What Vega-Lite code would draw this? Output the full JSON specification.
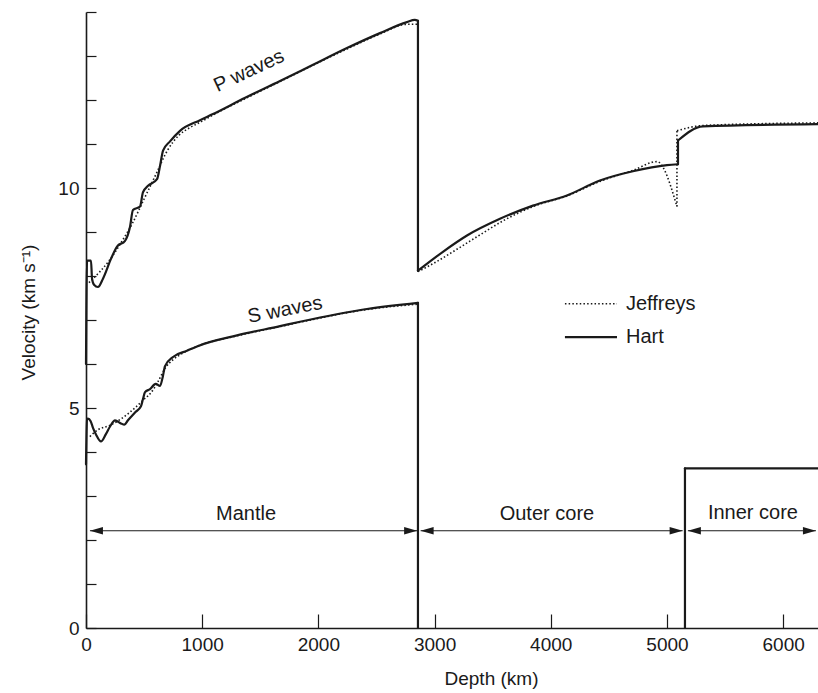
{
  "$schema": "https://vega.github.io/schema/vega-lite/v6.json",
  "width": 732,
  "height": 616,
  "autosize": {"type": "none"},
  "padding": {"left": 86, "top": 12, "right": 0, "bottom": 65},
  "background": "white",
  "config": {
    "view": {"stroke": null},
    "font": "Liberation Sans",
    "text": {"font": "Liberation Sans", "fontSize": 20, "color": "#1a1a1a"}
  },
  "datasets": {
    "hart": [
      {"seg": "P mantle", "i": 0, "d": 0, "v": 6.0},
      {"seg": "P mantle", "i": 1, "d": 9, "v": 8.35},
      {"seg": "P mantle", "i": 2, "d": 43, "v": 8.35},
      {"seg": "P mantle", "i": 3, "d": 52, "v": 7.94},
      {"seg": "P mantle", "i": 4, "d": 69, "v": 7.8},
      {"seg": "P mantle", "i": 5, "d": 103, "v": 7.75},
      {"seg": "P mantle", "i": 6, "d": 146, "v": 7.94},
      {"seg": "P mantle", "i": 7, "d": 215, "v": 8.39},
      {"seg": "P mantle", "i": 8, "d": 267, "v": 8.67},
      {"seg": "P mantle", "i": 9, "d": 336, "v": 8.8},
      {"seg": "P mantle", "i": 10, "d": 379, "v": 9.12},
      {"seg": "P mantle", "i": 11, "d": 404, "v": 9.5},
      {"seg": "P mantle", "i": 12, "d": 465, "v": 9.58},
      {"seg": "P mantle", "i": 13, "d": 490, "v": 9.9},
      {"seg": "P mantle", "i": 14, "d": 534, "v": 10.05},
      {"seg": "P mantle", "i": 15, "d": 611, "v": 10.2},
      {"seg": "P mantle", "i": 16, "d": 637, "v": 10.5},
      {"seg": "P mantle", "i": 17, "d": 663, "v": 10.85},
      {"seg": "P mantle", "i": 18, "d": 723, "v": 11.06},
      {"seg": "P mantle", "i": 19, "d": 809, "v": 11.3},
      {"seg": "P mantle", "i": 20, "d": 981, "v": 11.54},
      {"seg": "P mantle", "i": 21, "d": 1093, "v": 11.68},
      {"seg": "P mantle", "i": 22, "d": 1370, "v": 12.05},
      {"seg": "P mantle", "i": 23, "d": 1670, "v": 12.43},
      {"seg": "P mantle", "i": 24, "d": 1954, "v": 12.8},
      {"seg": "P mantle", "i": 25, "d": 2246, "v": 13.18},
      {"seg": "P mantle", "i": 26, "d": 2530, "v": 13.52},
      {"seg": "P mantle", "i": 27, "d": 2762, "v": 13.77},
      {"seg": "P mantle", "i": 28, "d": 2830, "v": 13.82},
      {"seg": "P mantle", "i": 29, "d": 2857, "v": 13.8},
      {"seg": "P CMB", "i": 0, "d": 2857, "v": 13.8},
      {"seg": "P CMB", "i": 1, "d": 2857, "v": 8.12},
      {"seg": "P outer core", "i": 0, "d": 2857, "v": 8.12},
      {"seg": "P outer core", "i": 1, "d": 3072, "v": 8.55},
      {"seg": "P outer core", "i": 2, "d": 3279, "v": 8.92},
      {"seg": "P outer core", "i": 3, "d": 3563, "v": 9.3},
      {"seg": "P outer core", "i": 4, "d": 3847, "v": 9.6},
      {"seg": "P outer core", "i": 5, "d": 4139, "v": 9.83},
      {"seg": "P outer core", "i": 6, "d": 4423, "v": 10.17},
      {"seg": "P outer core", "i": 7, "d": 4707, "v": 10.38},
      {"seg": "P outer core", "i": 8, "d": 5000, "v": 10.52},
      {"seg": "P outer core", "i": 9, "d": 5095, "v": 10.54},
      {"seg": "P ICB", "i": 0, "d": 5095, "v": 10.54},
      {"seg": "P ICB", "i": 1, "d": 5095, "v": 11.08},
      {"seg": "P inner core", "i": 0, "d": 5095, "v": 11.08},
      {"seg": "P inner core", "i": 1, "d": 5310, "v": 11.4},
      {"seg": "P inner core", "i": 2, "d": 6300, "v": 11.45},
      {"seg": "S mantle", "i": 0, "d": 0, "v": 3.72},
      {"seg": "S mantle", "i": 1, "d": 9, "v": 4.74},
      {"seg": "S mantle", "i": 2, "d": 17, "v": 4.76},
      {"seg": "S mantle", "i": 3, "d": 40, "v": 4.7},
      {"seg": "S mantle", "i": 4, "d": 60, "v": 4.55},
      {"seg": "S mantle", "i": 5, "d": 86, "v": 4.4},
      {"seg": "S mantle", "i": 6, "d": 129, "v": 4.24},
      {"seg": "S mantle", "i": 7, "d": 170, "v": 4.4},
      {"seg": "S mantle", "i": 8, "d": 207, "v": 4.58},
      {"seg": "S mantle", "i": 9, "d": 250, "v": 4.72},
      {"seg": "S mantle", "i": 10, "d": 301, "v": 4.65},
      {"seg": "S mantle", "i": 11, "d": 330, "v": 4.62},
      {"seg": "S mantle", "i": 12, "d": 361, "v": 4.72},
      {"seg": "S mantle", "i": 13, "d": 422, "v": 4.9},
      {"seg": "S mantle", "i": 14, "d": 473, "v": 5.04},
      {"seg": "S mantle", "i": 15, "d": 490, "v": 5.2},
      {"seg": "S mantle", "i": 16, "d": 508, "v": 5.36},
      {"seg": "S mantle", "i": 17, "d": 551, "v": 5.43},
      {"seg": "S mantle", "i": 18, "d": 600, "v": 5.55},
      {"seg": "S mantle", "i": 19, "d": 637, "v": 5.5},
      {"seg": "S mantle", "i": 20, "d": 660, "v": 5.7},
      {"seg": "S mantle", "i": 21, "d": 680, "v": 5.95},
      {"seg": "S mantle", "i": 22, "d": 749, "v": 6.16},
      {"seg": "S mantle", "i": 23, "d": 869, "v": 6.3},
      {"seg": "S mantle", "i": 24, "d": 955, "v": 6.4},
      {"seg": "S mantle", "i": 25, "d": 1300, "v": 6.65},
      {"seg": "S mantle", "i": 26, "d": 1670, "v": 6.86},
      {"seg": "S mantle", "i": 27, "d": 1842, "v": 6.96},
      {"seg": "S mantle", "i": 28, "d": 2418, "v": 7.25},
      {"seg": "S mantle", "i": 29, "d": 2857, "v": 7.39},
      {"seg": "S CMB", "i": 0, "d": 2857, "v": 7.39},
      {"seg": "S CMB", "i": 1, "d": 2857, "v": 0},
      {"seg": "S ICB", "i": 0, "d": 5155, "v": 0},
      {"seg": "S ICB", "i": 1, "d": 5155, "v": 3.63},
      {"seg": "S inner core", "i": 0, "d": 5155, "v": 3.63},
      {"seg": "S inner core", "i": 1, "d": 6300, "v": 3.63}
    ],
    "jeffreys": [
      {"seg": "P mantle", "i": 0, "d": 25, "v": 7.85},
      {"seg": "P mantle", "i": 1, "d": 120, "v": 8.1},
      {"seg": "P mantle", "i": 2, "d": 200, "v": 8.35},
      {"seg": "P mantle", "i": 3, "d": 300, "v": 8.75},
      {"seg": "P mantle", "i": 4, "d": 400, "v": 9.2},
      {"seg": "P mantle", "i": 5, "d": 500, "v": 9.75},
      {"seg": "P mantle", "i": 6, "d": 600, "v": 10.3},
      {"seg": "P mantle", "i": 7, "d": 700, "v": 10.85},
      {"seg": "P mantle", "i": 8, "d": 800, "v": 11.2},
      {"seg": "P mantle", "i": 9, "d": 900, "v": 11.38},
      {"seg": "P mantle", "i": 10, "d": 1000, "v": 11.52},
      {"seg": "P mantle", "i": 11, "d": 1093, "v": 11.66},
      {"seg": "P mantle", "i": 12, "d": 1370, "v": 12.03},
      {"seg": "P mantle", "i": 13, "d": 1670, "v": 12.42},
      {"seg": "P mantle", "i": 14, "d": 1954, "v": 12.79},
      {"seg": "P mantle", "i": 15, "d": 2246, "v": 13.16},
      {"seg": "P mantle", "i": 16, "d": 2530, "v": 13.5},
      {"seg": "P mantle", "i": 17, "d": 2762, "v": 13.72},
      {"seg": "P mantle", "i": 18, "d": 2857, "v": 13.72},
      {"seg": "P outer core", "i": 0, "d": 2857, "v": 8.1},
      {"seg": "P outer core", "i": 1, "d": 3000, "v": 8.3},
      {"seg": "P outer core", "i": 2, "d": 3200, "v": 8.62},
      {"seg": "P outer core", "i": 3, "d": 3400, "v": 8.95},
      {"seg": "P outer core", "i": 4, "d": 3600, "v": 9.27},
      {"seg": "P outer core", "i": 5, "d": 3850, "v": 9.58},
      {"seg": "P outer core", "i": 6, "d": 4139, "v": 9.82},
      {"seg": "P outer core", "i": 7, "d": 4423, "v": 10.15},
      {"seg": "P outer core", "i": 8, "d": 4707, "v": 10.4},
      {"seg": "P outer core", "i": 9, "d": 4914, "v": 10.6},
      {"seg": "P outer core", "i": 10, "d": 5086, "v": 9.58},
      {"seg": "P ICB", "i": 0, "d": 5086, "v": 9.58},
      {"seg": "P ICB", "i": 1, "d": 5086, "v": 11.3},
      {"seg": "P inner core", "i": 0, "d": 5086, "v": 11.3},
      {"seg": "P inner core", "i": 1, "d": 5310, "v": 11.42},
      {"seg": "P inner core", "i": 2, "d": 6300, "v": 11.48},
      {"seg": "S mantle", "i": 0, "d": 33, "v": 4.35},
      {"seg": "S mantle", "i": 1, "d": 100, "v": 4.5},
      {"seg": "S mantle", "i": 2, "d": 200, "v": 4.6},
      {"seg": "S mantle", "i": 3, "d": 300, "v": 4.75},
      {"seg": "S mantle", "i": 4, "d": 420, "v": 5.0},
      {"seg": "S mantle", "i": 5, "d": 500, "v": 5.2},
      {"seg": "S mantle", "i": 6, "d": 560, "v": 5.35},
      {"seg": "S mantle", "i": 7, "d": 620, "v": 5.6},
      {"seg": "S mantle", "i": 8, "d": 680, "v": 5.9},
      {"seg": "S mantle", "i": 9, "d": 750, "v": 6.1},
      {"seg": "S mantle", "i": 10, "d": 850, "v": 6.27},
      {"seg": "S mantle", "i": 11, "d": 955, "v": 6.4},
      {"seg": "S mantle", "i": 12, "d": 1300, "v": 6.64},
      {"seg": "S mantle", "i": 13, "d": 1670, "v": 6.85},
      {"seg": "S mantle", "i": 14, "d": 1842, "v": 6.95},
      {"seg": "S mantle", "i": 15, "d": 2418, "v": 7.24},
      {"seg": "S mantle", "i": 16, "d": 2857, "v": 7.36}
    ],
    "regions": [
      {"region": "Mantle", "d": 34, "d2": 2850, "v": 2.21, "ld": 1377, "lv": 2.6},
      {"region": "Outer core", "d": 2880, "d2": 5135, "v": 2.21, "ld": 3967, "lv": 2.6},
      {"region": "Inner core", "d": 5180, "d2": 6282, "v": 2.21, "ld": 5740, "lv": 2.62}
    ],
    "legend": [
      {"model": "Jeffreys", "d": 4122, "d2": 4570, "v": 7.37, "ld": 4647},
      {"model": "Hart", "d": 4122, "d2": 4570, "v": 6.61, "ld": 4647}
    ],
    "waves": [
      {"label": "P waves", "d": 1403, "v": 12.66},
      {"label": "S waves", "d": 1713, "v": 7.23}
    ]
  },
  "encoding": {
    "x": {
      "field": "d",
      "type": "quantitative",
      "scale": {"domain": [0, 6300], "nice": false, "zero": false},
      "axis": {
        "title": "Depth (km)",
        "values": [0, 1000, 2000, 3000, 4000, 5000, 6000],
        "format": "d",
        "grid": false,
        "tickSize": -14,
        "tickWidth": 1.2,
        "tickColor": "#1a1a1a",
        "domainColor": "#1a1a1a",
        "domainWidth": 1.6,
        "labelFont": "Liberation Sans",
        "labelFontSize": 19,
        "labelColor": "#1a1a1a",
        "labelPadding": 21,
        "labelFlush": false,
        "titleFont": "Liberation Sans",
        "titleFontSize": 19,
        "titleFontWeight": "normal",
        "titleColor": "#1a1a1a",
        "titleX": 405,
        "titleY": 50,
        "titleAlign": "center",
        "titleBaseline": "middle"
      }
    },
    "y": {
      "field": "v",
      "type": "quantitative",
      "scale": {"domain": [0, 14], "nice": false, "zero": true},
      "axis": {
        "title": "Velocity (km s⁻¹)",
        "values": [0, 1, 2, 3, 4, 5, 6, 7, 8, 9, 10, 11, 12, 13, 14],
        "labelExpr": "datum.value % 5 === 0 ? datum.label : ''",
        "grid": false,
        "tickSize": -10,
        "tickWidth": 1.2,
        "tickColor": "#1a1a1a",
        "domainColor": "#1a1a1a",
        "domainWidth": 1.6,
        "labelFont": "Liberation Sans",
        "labelFontSize": 19,
        "labelColor": "#1a1a1a",
        "labelPadding": 17,
        "labelFlush": false,
        "titleFont": "Liberation Sans",
        "titleFontSize": 19,
        "titleFontWeight": "normal",
        "titleColor": "#1a1a1a",
        "titleX": -58,
        "titleY": 300,
        "titleAngle": -90,
        "titleAlign": "center",
        "titleBaseline": "middle"
      }
    }
  },
  "layer": [
    {
      "data": {"name": "jeffreys"},
      "mark": {"type": "line", "color": "#1a1a1a", "strokeWidth": 1.6, "strokeDash": [1.5, 2.2], "strokeCap": "butt", "interpolate": "monotone"},
      "encoding": {
        "detail": {"field": "seg"},
        "order": {"field": "i", "type": "quantitative"}
      }
    },
    {
      "data": {"name": "hart"},
      "mark": {"type": "line", "color": "#1a1a1a", "strokeWidth": 2.2, "strokeJoin": "round", "strokeCap": "round", "interpolate": "monotone"},
      "encoding": {
        "detail": {"field": "seg"},
        "order": {"field": "i", "type": "quantitative"}
      }
    },
    {
      "data": {"name": "regions"},
      "mark": {"type": "rule", "color": "#1a1a1a", "strokeWidth": 1.2},
      "encoding": {
        "x2": {"field": "d2"}
      }
    },
    {
      "data": {"name": "regions"},
      "mark": {"type": "point", "shape": "M0,0L1,-0.28L1,0.28Z", "size": 676, "filled": true, "color": "#1a1a1a", "opacity": 1, "strokeWidth": 0},
      "encoding": {}
    },
    {
      "data": {"name": "regions"},
      "mark": {"type": "point", "shape": "M0,0L-1,-0.28L-1,0.28Z", "size": 676, "filled": true, "color": "#1a1a1a", "opacity": 1, "strokeWidth": 0},
      "encoding": {
        "x": {"field": "d2", "type": "quantitative"}
      }
    },
    {
      "data": {"name": "regions"},
      "mark": {"type": "text", "align": "center", "baseline": "middle", "fontSize": 20},
      "encoding": {
        "x": {"field": "ld", "type": "quantitative"},
        "y": {"field": "lv", "type": "quantitative"},
        "text": {"field": "region"}
      }
    },
    {
      "data": {"name": "legend"},
      "transform": [{"filter": "datum.model === 'Jeffreys'"}],
      "mark": {"type": "rule", "color": "#1a1a1a", "strokeWidth": 1.6, "strokeDash": [1.5, 2.2]},
      "encoding": {"x2": {"field": "d2"}}
    },
    {
      "data": {"name": "legend"},
      "transform": [{"filter": "datum.model === 'Hart'"}],
      "mark": {"type": "rule", "color": "#1a1a1a", "strokeWidth": 2.2},
      "encoding": {"x2": {"field": "d2"}}
    },
    {
      "data": {"name": "legend"},
      "mark": {"type": "text", "align": "left", "baseline": "middle", "fontSize": 20},
      "encoding": {
        "x": {"field": "ld", "type": "quantitative"},
        "text": {"field": "model"}
      }
    },
    {
      "data": {"name": "waves"},
      "transform": [{"filter": "datum.label === 'P waves'"}],
      "mark": {"type": "text", "align": "center", "baseline": "middle", "fontSize": 20, "angle": 335},
      "encoding": {"text": {"field": "label"}}
    },
    {
      "data": {"name": "waves"},
      "transform": [{"filter": "datum.label === 'S waves'"}],
      "mark": {"type": "text", "align": "center", "baseline": "middle", "fontSize": 20, "angle": 349},
      "encoding": {"text": {"field": "label"}}
    }
  ]
}
